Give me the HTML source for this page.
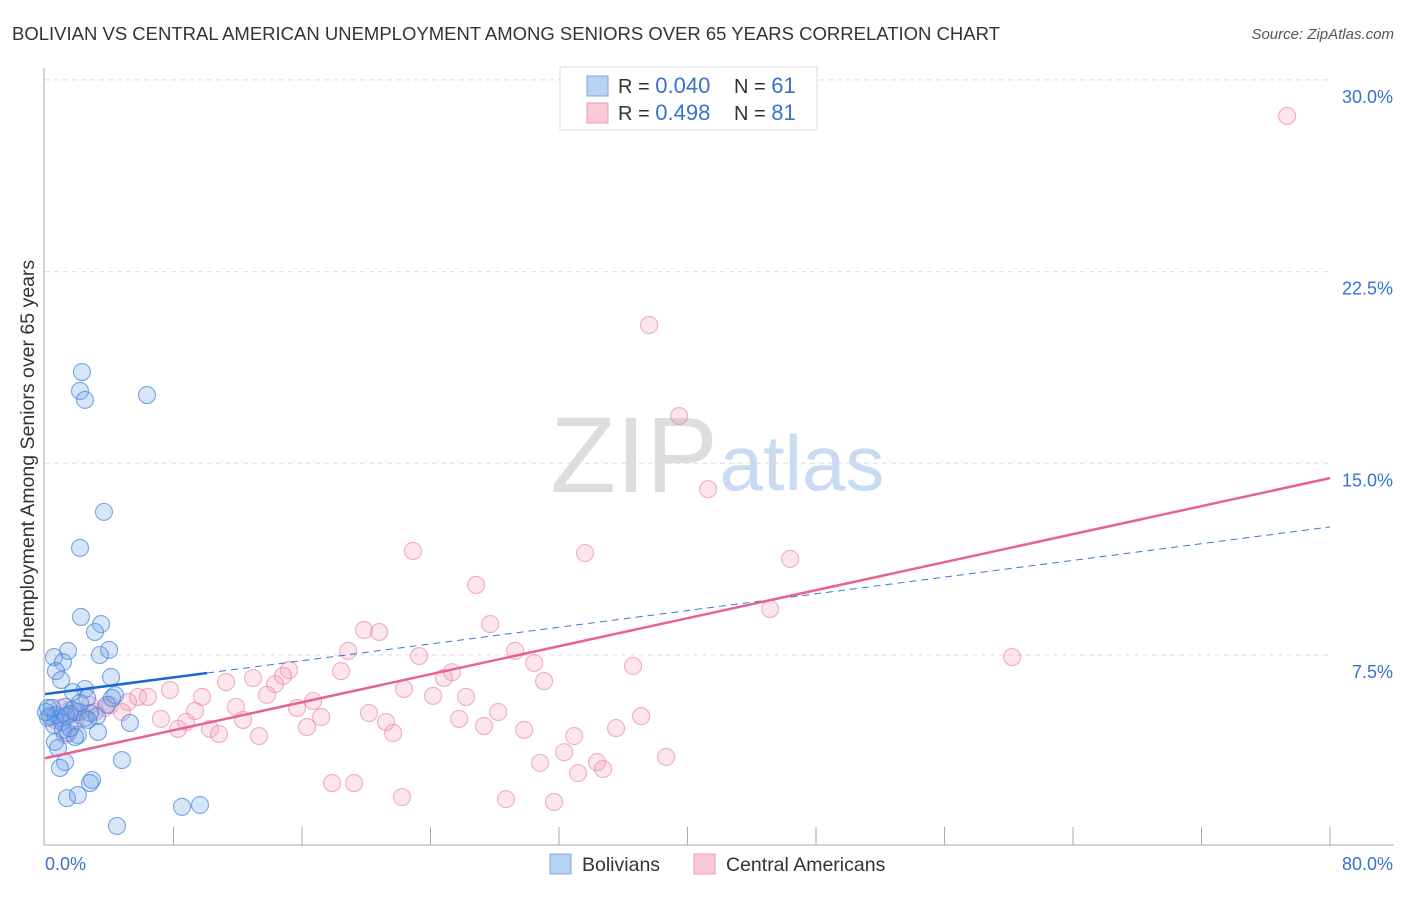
<!DOCTYPE html>
<html><head><meta charset="utf-8"><style>
body{margin:0;background:#fff;font-family:"Liberation Sans",sans-serif;}
svg text{font-family:"Liberation Sans",sans-serif;}
</style></head><body>
<svg width="1406" height="892" xmlns="http://www.w3.org/2000/svg">
<text x="12" y="40" font-size="18.5" fill="#333">BOLIVIAN VS CENTRAL AMERICAN UNEMPLOYMENT AMONG SENIORS OVER 65 YEARS CORRELATION CHART</text>
<text x="1394" y="39" font-size="15" fill="#555" font-style="italic" text-anchor="end">Source: ZipAtlas.com</text>
<g>
<text x="634" y="492" font-size="108" fill="#ddd" font-family="Liberation Serif, serif" text-anchor="middle">ZIP</text>
<text x="802" y="490" font-size="78" fill="#c9dbf3" text-anchor="middle">atlas</text>
</g>
<g id="grid"></g>
<g id="axes"></g>
<g id="marks"></g>
<text transform="translate(34,456) rotate(-90)" font-size="19.5" fill="#333" text-anchor="middle">Unemployment Among Seniors over 65 years</text>
<g>
<rect x="560" y="67" width="257" height="63" fill="#fff" stroke="#ddd"/>
<rect x="587" y="76" width="21" height="20" fill="#b8d2f4" stroke="#7aa6e6"/>
<rect x="587" y="103" width="21" height="20" fill="#f9c9d8" stroke="#ee9ab5"/>
<text x="618" y="93" font-size="20" fill="#333">R = <tspan font-size="22" fill="#3a70d0">0.040</tspan></text>
<text x="734" y="93" font-size="20" fill="#333">N = <tspan font-size="22" fill="#3a70d0">61</tspan></text>
<text x="618" y="120" font-size="20" fill="#333">R =  <tspan font-size="22" fill="#3a70d0">0.498</tspan></text>
<text x="734" y="120" font-size="20" fill="#333">N = <tspan font-size="22" fill="#3a70d0">81</tspan></text>
</g>
<g>
<rect x="550" y="854" width="21" height="20" fill="#b8d2f4" stroke="#7aa6e6"/>
<text x="582" y="871" font-size="19.5" fill="#333">Bolivians</text>
<rect x="694" y="854" width="21" height="20" fill="#f9c9d8" stroke="#ee9ab5"/>
<text x="726" y="871" font-size="19.5" fill="#333">Central Americans</text>
</g>
</svg>
<script>
const yTicks=[7.5,15,22.5,30];
const yTickLabels=["7.5%","15.0%","22.5%","30.0%"];
const xTickLabels=["0.0%","80.0%"];
const bolX=[2.30,2.18,2.49,6.35,3.67,2.18,2.24,3.49,3.11,1.43,3.99,3.42,0.56,1.12,0.68,4.11,1.00,2.49,1.74,4.36,2.62,0.19,1.25,1.74,1.99,0.31,0.68,0.93,1.56,2.49,3.24,2.80,5.29,0.56,1.12,1.43,2.05,3.30,0.62,1.87,0.81,4.79,1.25,0.93,2.93,2.80,1.37,2.05,8.53,9.65,4.48,0.19,0.44,0.06,1.06,1.31,2.68,2.18,3.86,1.56,4.17];
const bolY=[18.57,17.83,17.48,17.67,13.10,11.69,8.99,8.71,8.40,7.66,7.70,7.50,7.42,7.22,6.87,6.64,6.52,6.17,6.05,5.93,5.82,5.43,5.47,5.35,5.27,5.11,5.15,5.04,5.19,5.04,5.11,5.23,4.84,4.76,4.57,4.45,4.37,4.49,4.10,4.29,3.86,3.39,3.31,3.08,2.61,2.49,1.90,2.02,1.56,1.63,0.81,5.04,5.43,5.27,4.88,5.11,4.96,5.62,5.55,4.64,5.82];
const camX=[77.33,37.61,39.48,41.28,22.91,33.62,46.39,26.84,45.14,27.71,19.86,20.80,18.87,23.29,29.27,30.45,36.61,60.21,15.19,18.43,12.95,25.34,24.84,31.07,11.27,14.32,14.82,7.78,6.41,5.79,5.17,9.78,22.35,13.82,24.16,26.21,16.69,11.89,15.69,9.34,4.05,3.74,2.80,4.79,20.17,28.21,37.11,17.19,7.22,12.33,8.78,25.78,21.23,16.31,8.28,10.27,10.83,27.33,29.83,35.55,21.67,13.32,32.94,32.32,38.67,30.82,34.37,34.74,33.19,17.87,19.24,22.23,28.70,31.69,1.56,2.18,0.93,3.11,1.87,0.62,1.25];
const camY=[28.59,20.41,16.85,13.99,11.57,11.49,11.26,10.24,9.30,8.71,8.48,8.40,7.66,7.46,7.66,7.19,7.07,7.42,6.91,6.87,6.60,6.83,6.60,6.48,6.44,6.36,6.68,6.13,5.86,5.86,5.66,5.86,6.17,5.94,5.90,5.86,5.70,5.47,5.43,5.31,5.54,5.43,5.54,5.27,5.23,5.27,5.11,5.07,5.00,4.96,4.88,5.00,4.88,4.68,4.61,4.61,4.41,4.72,4.57,4.64,4.45,4.33,4.33,3.70,3.51,3.28,3.31,3.04,2.88,2.49,2.49,1.94,1.86,1.75,5.35,5.27,5.43,5.27,4.88,4.96,4.37];
const bolTrend=[5.97,12.51];
const camTrend=[3.46,14.42];
const bolSolidEnd=10.1;

const NS="http://www.w3.org/2000/svg";
const X0=45,X1=1330,Y0=846.7,PPY=25.56;
const sx=v=>X0+(v/80)*(X1-X0);
const sy=v=>Y0-v*PPY;
function mk(tag,attrs,parent){const e=document.createElementNS(NS,tag);for(const k in attrs)e.setAttribute(k,attrs[k]);document.getElementById(parent).appendChild(e);return e;}

yTicks.forEach((t,i)=>{
  const g=mk('line',{x1:45,x2:1330,y1:sy(t),y2:sy(t),stroke:'#ddd','stroke-dasharray':'5,4'},'grid');
  
  
  const l=mk('text',{x:1393,y:sy(t)+23,'font-size':18,fill:'#3a70d0','text-anchor':'end'},'grid');
  l.textContent=yTickLabels[i];
  
  
});
const ax=mk('line',{x1:44,x2:44,y1:68,y2:845,stroke:'#aaa'},'axes');


const bx=mk('line',{x1:44,x2:1394,y1:845,y2:845,stroke:'#aaa'},'axes');


for(let k=1;k<=10;k++){
  const t=mk('line',{x1:sx(k*8),x2:sx(k*8),y1:827,y2:845,stroke:'#aaa'},'axes');
  
  
}
const xl0=mk('text',{x:45,y:870,'font-size':18,fill:'#3a70d0'},'axes');
xl0.textContent=xTickLabels[0];


const xl1=mk('text',{x:1393,y:870,'font-size':18,fill:'#3a70d0','text-anchor':'end'},'axes');
xl1.textContent=xTickLabels[1];



camX.forEach((x,i)=>{
  const c=mk('circle',{cx:sx(x),cy:sy(camY[i]),r:8.5,fill:'rgba(244,150,180,0.25)',stroke:'rgba(236,140,172,0.7)','stroke-width':1.1},'marks');
  
  
});
bolX.forEach((x,i)=>{
  const c=mk('circle',{cx:sx(x),cy:sy(bolY[i]),r:8.5,fill:'rgba(110,160,235,0.28)',stroke:'rgba(70,130,220,0.7)','stroke-width':1.1},'marks');
  
  
});
const bAt=v=>bolTrend[0]+(bolTrend[1]-bolTrend[0])*v/80;
const bd=mk('line',{x1:sx(bolSolidEnd),y1:sy(bAt(bolSolidEnd)),x2:sx(80),y2:sy(bolTrend[1]),stroke:'#3a78d8','stroke-width':1,'stroke-dasharray':'7,5'},'marks');


const bs=mk('line',{x1:sx(0),y1:sy(bolTrend[0]),x2:sx(bolSolidEnd),y2:sy(bAt(bolSolidEnd)),stroke:'#1f66d0','stroke-width':2.5},'marks');


const cl=mk('line',{x1:sx(0),y1:sy(camTrend[0]),x2:sx(80),y2:sy(camTrend[1]),stroke:'#e8628f','stroke-width':2.5},'marks');


</script>
</body></html>
